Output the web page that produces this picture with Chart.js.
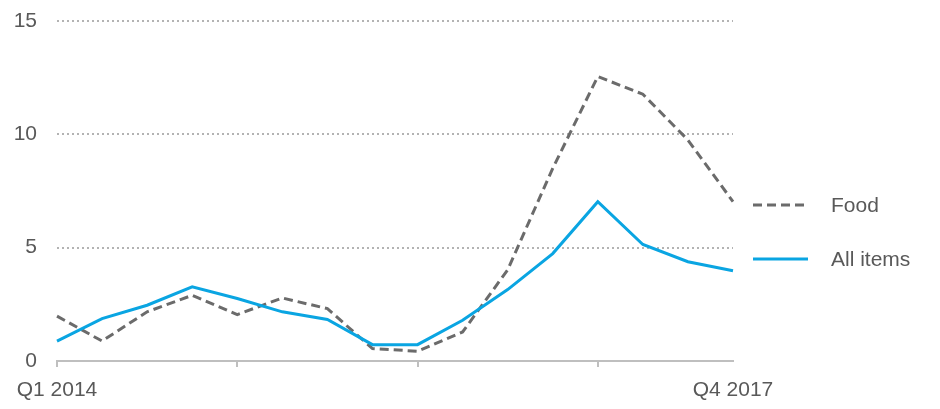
<!DOCTYPE html>
<html>
<head>
<meta charset="utf-8">
<style>
  html, body { margin: 0; padding: 0; background: #fff; }
  #wrap { width: 940px; height: 409px; position: relative; }
</style>
<script src="https://cdn.jsdelivr.net/npm/chart.js@4/dist/chart.umd.min.js"></script>
</head>
<body>
<div id="wrap"><canvas id="grafico"></canvas></div>
<script>
// Quarters, Q1 2014 .. Q4 2017
const quarters = [
  'Q1 2014', 'Q2 2014', 'Q3 2014', 'Q4 2014',
  'Q1 2015', 'Q2 2015', 'Q3 2015', 'Q4 2015',
  'Q1 2016', 'Q2 2016', 'Q3 2016', 'Q4 2016',
  'Q1 2017', 'Q2 2017', 'Q3 2017', 'Q4 2017'
];
// values
const allItems = [0.88, 1.87, 2.46, 3.27, 2.76, 2.17, 1.83, 0.72, 0.72, 1.8, 3.15, 4.74, 7.03, 5.14, 4.38, 3.98];
const food     = [1.98, 0.88, 2.17, 2.9, 2.05, 2.78, 2.31, 0.55, 0.43, 1.28, 4.02, 8.5, 12.55, 11.77, 9.75, 7.03];
const yTicks = [0, 5, 10, 15];

const textColor = '#595959';
const blue = '#0AA5E2';
const grey = '#6b6b6b';
const fontFamily = '"Liberation Sans", Arial, sans-serif';

// legend drawn next to the line ends
const sideLegend = {
  id: 'sideLegend',
  afterDraw(chart) {
    const c = chart.ctx;
    const area = chart.chartArea;
    const x0 = area.right + 20;
    const items = [
      { text: 'Food', color: grey, dash: [9, 5], y: area.top + 184 },
      { text: 'All items', color: blue, dash: [], y: area.top + 238 }
    ];
    c.save();
    items.forEach(it => {
      c.beginPath();
      c.setLineDash(it.dash);
      c.lineWidth = 3;
      c.strokeStyle = it.color;
      c.moveTo(x0, it.y);
      c.lineTo(x0 + 55, it.y);
      c.stroke();
      c.setLineDash([]);
      c.fillStyle = textColor;
      c.font = '21px ' + fontFamily;
      c.textBaseline = 'middle';
      c.fillText(it.text, x0 + 78, it.y + 1);
    });
    c.restore();
  }
};

const ctx = document.getElementById('grafico').getContext('2d');
new Chart(ctx, {
  type: 'line',
  data: {
    labels: quarters,
    datasets: [
      {
        label: 'All items',
        data: allItems,
        borderColor: blue,
        borderWidth: 3,
        pointRadius: 0,
        tension: 0
      },
      {
        label: 'Food',
        data: food,
        borderColor: grey,
        borderWidth: 3,
        borderDash: [9, 5],
        pointRadius: 0,
        tension: 0
      }
    ]
  },
  options: {
    responsive: true,
    maintainAspectRatio: false,
    animation: false,
    layout: { padding: { top: 21, right: 207, left: 0, bottom: 0 } },
    plugins: {
      legend: { display: false },
      tooltip: { enabled: false }
    },
    scales: {
      x: {
        offset: false,
        afterFit: s => { s.height = 48; },
        grid: {
          drawOnChartArea: false,
          drawTicks: true,
          tickLength: 6,
          lineWidth: 2,
          color: c => (c.index % 4 === 0 && c.index < quarters.length - 1) ? '#bfbfbf' : 'rgba(0,0,0,0)'
        },
        border: { display: true, color: '#bfbfbf', width: 2 },
        ticks: {
          autoSkip: false,
          maxRotation: 0,
          padding: 11,
          color: textColor,
          font: { size: 21, family: fontFamily },
          callback: (v, i) => (i === 0 || i === quarters.length - 1) ? quarters[i] : ''
        }
      },
      y: {
        min: yTicks[0],
        max: yTicks[yTicks.length - 1],
        // fixed width; the tick padding must not push the plot top down
        afterFit: s => { s.width = 57; s.paddingTop = 10; s.paddingBottom = 10; },
        afterBuildTicks: s => { s.ticks = yTicks.map(v => ({ value: v })); },
        grid: {
          drawTicks: false,
          lineWidth: 2,
          color: c => c.tick && c.tick.value === 0 ? 'rgba(0,0,0,0)' : '#b3b3b3'
        },
        border: { display: false, dash: [2, 3] },
        ticks: {
          padding: 20,
          color: textColor,
          font: { size: 21, family: fontFamily }
        }
      }
    }
  },
  plugins: [sideLegend]
});
</script>
</body>
</html>
